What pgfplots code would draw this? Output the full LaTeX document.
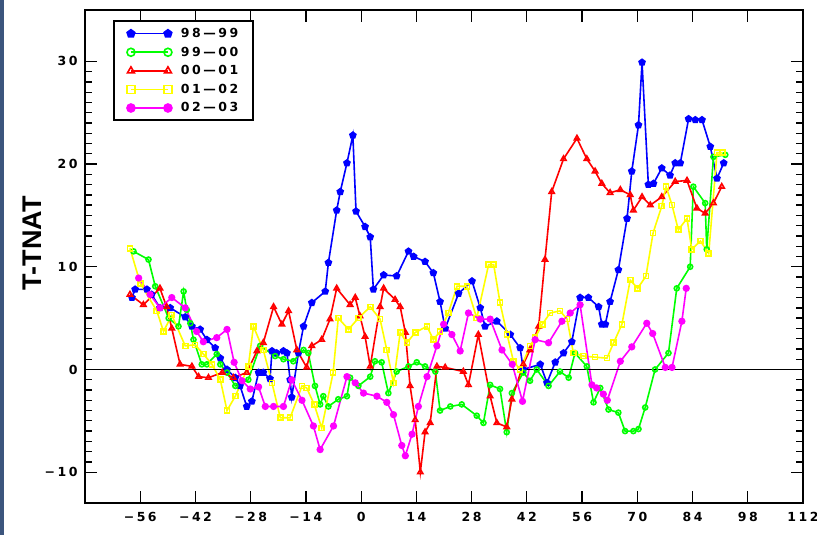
\documentclass[border=0pt]{standalone}
\usepackage{fontspec}
\setmainfont{Liberation Sans}
\newfontfamily\plotfont[LetterSpace=20]{DejaVu Sans}
\usepackage{pgfplots}
\pgfplotsset{compat=1.18}
\usetikzlibrary{plotmarks}

\definecolor{sBlue}{RGB}{0,0,255}
\definecolor{sGreen}{RGB}{0,255,0}
\definecolor{sRed}{RGB}{255,0,0}
\definecolor{sYellow}{RGB}{255,255,0}
\definecolor{sMagenta}{RGB}{255,0,255}
\definecolor{slideEdge}{RGB}{60,85,125}

\begin{document}
\begin{tikzpicture}
\useasboundingbox (-85pt,-32pt) rectangle (732pt,503pt);
\fill[slideEdge] (-85pt,-32pt) rectangle (-81pt,503pt);
\begin{axis}[
  scale only axis, width=718pt, height=493pt,
  xmin=-70, xmax=112, ymin=-13, ymax=35,
  xtick={-56,-42,...,112},
  xticklabels={−56,−42,−28,−14,0,14,28,42,56,70,84,98,112},
  ytick={-10,0,...,30},
  yticklabels={−10,0,10,20,30},
  minor y tick num=9,
  tick align=inside,
  major tick length=12pt, minor tick length=7pt,
  axis line style={line width=1.9pt},
  every tick/.style={black, line width=1.3pt},
  tick label style={font=\plotfont\bfseries\fontsize{12.5}{15}\selectfont},
  xticklabel style={yshift=-6pt},
  yticklabel style={xshift=-4pt},
  ylabel={T-TNAT},
  ylabel style={font=\bfseries\fontsize{27}{30}\selectfont,
    at={(axis description cs:-0.074,0.527)}, anchor=center},
  legend style={at={(axis description cs:0.039,0.979)}, anchor=north west,
    draw=black, line width=1.9pt, font=\plotfont\bfseries\fontsize{12.5}{15}\selectfont,
    inner xsep=13pt, inner ysep=5pt, row sep=3.8pt, cells={anchor=west},
    /tikz/every odd column/.append style={column sep=7pt}},
  legend image code/.code={\draw[mark size=4pt] plot coordinates {(0pt,0pt) (37pt,0pt)};},
]

% 98-99
\addplot[sBlue, line width=1.6pt, mark=pentagon*, mark size=3.1pt, mark options={solid, fill=sBlue}] coordinates {
(-58.1,7.0)(-57.3,7.8)(-54.3,7.8)(-53.1,7.3)(-51.0,6.0)(-48.4,6.0)(-44.6,5.1)(-42.9,4.2)(-40.8,3.9)(-39.1,2.9)(-37.0,2.1)(-35.7,1.1)(-34.0,0.0)(-31.9,-0.8)(-30.7,-1.6)(-29.0,-3.6)(-27.7,-3.1)(-26.0,-0.3)(-24.8,-0.3)(-23.1,-0.9)(-22.6,1.8)(-21.4,1.6)(-19.7,1.8)(-18.8,1.6)(-18.0,-1.0)(-17.6,-2.7)(-15.9,1.6)(-14.6,4.2)(-12.5,6.5)(-9.1,7.6)(-8.3,10.4)(-6.2,15.5)(-5.3,17.3)(-3.6,20.1)(-2.1,22.8)(-1.3,15.4)(1.0,13.9)(2.3,12.9)(3.1,7.8)(5.7,9.2)(9.0,9.1)(12.0,11.5)(13.3,11.0)(16.2,10.5)(18.3,9.4)(20.0,6.6)(21.3,4.0)(24.7,7.4)(28.1,8.6)(30.2,6.0)(31.4,4.2)(34.4,4.7)(37.8,3.4)(40.3,2.1)(41.1,0.0)(45.4,0.5)(47.1,-1.3)(49.2,0.7)(51.3,1.6)(53.4,2.7)(55.5,7.0)(57.6,7.0)(60.2,6.1)(61.0,4.4)(61.9,4.4)(63.1,6.6)(65.2,9.7)(67.4,14.7)(68.6,19.3)(70.3,23.8)(71.2,29.9)(72.8,18.0)(74.1,18.1)(76.2,19.6)(78.3,18.9)(79.6,20.1)(80.9,20.1)(83.0,24.4)(84.7,24.3)(86.4,24.3)(88.5,21.7)(90.2,18.6)(91.9,20.1)
};
\addlegendentry{98—99}

% 99-00
\addplot[sGreen, line width=1.6pt, mark=o, mark size=2.5pt, mark options={solid}] coordinates {
(-57.7,11.5)(-53.9,10.7)(-52.2,8.1)(-48.8,5.0)(-46.3,4.2)(-45.0,7.6)(-44.2,5.8)(-43.3,4.5)(-42.5,2.9)(-40.4,0.5)(-39.1,0.5)(-36.6,1.5)(-35.7,0.5)(-34.0,-0.3)(-31.9,-1.6)(-28.6,-1.0)(-25.6,2.3)(-21.8,1.3)(-19.7,1.0)(-17.2,0.8)(-14.6,1.9)(-13.4,1.6)(-11.7,-1.6)(-10.4,-3.4)(-9.6,-2.6)(-8.3,-3.6)(-5.8,-2.9)(-3.6,-2.6)(-2.8,-0.8)(-0.7,-1.6)(2.3,-0.7)(3.5,0.8)(5.2,0.7)(6.9,-2.3)(9.0,-0.2)(12.0,0.3)(14.1,0.7)(16.2,0.3)(18.8,-0.2)(20.0,-4.0)(22.6,-3.6)(25.5,-3.4)(29.3,-4.5)(31.0,-5.2)(32.7,-1.5)(35.2,-1.9)(36.9,-6.1)(38.2,-2.3)(41.1,-0.3)(42.8,-1.1)(44.5,0.0)(47.5,-1.6)(50.4,-0.2)(52.6,-0.8)(54.2,1.6)(57.2,0.3)(58.9,-3.2)(60.6,-1.8)(62.7,-3.9)(65.2,-4.2)(66.9,-6.0)(69.0,-6.0)(70.3,-5.8)(72.0,-3.7)(74.5,0.0)(77.9,1.6)(80.0,7.9)(83.4,10.0)(84.2,17.8)(87.2,16.2)(87.6,11.7)(89.3,20.7)(92.3,20.9)
};
\addlegendentry{99—00}

% 00-01
\addplot[sRed, line width=1.6pt, mark=triangle, mark size=3pt, mark options={solid}] coordinates {
(-58.6,7.3)(-55.2,6.3)(-51.0,7.9)(-49.3,6.1)(-48.0,4.0)(-45.9,0.5)(-42.9,0.3)(-41.2,-0.7)(-38.7,-0.8)(-35.2,-0.3)(-32.4,-0.8)(-29.0,-0.3)(-26.4,1.8)(-24.8,2.6)(-22.2,6.1)(-20.1,4.4)(-18.4,5.7)(-16.3,1.9)(-13.8,0.2)(-12.5,2.3)(-10.0,2.9)(-7.9,4.9)(-6.2,7.9)(-2.8,6.3)(-1.5,7.0)(-0.3,5.2)(1.0,3.2)(2.3,0.3)(4.8,6.1)(5.7,7.9)(8.6,6.8)(9.9,6.1)(11.2,3.6)(12.4,-1.6)(13.7,-4.9)(15.0,-10.0)(16.2,-6.1)(17.5,-5.2)(19.2,0.3)(21.3,0.2)(25.9,-0.2)(27.2,-1.5)(29.7,3.4)(32.7,-2.6)(34.4,-5.2)(36.9,-5.6)(38.2,-2.9)(41.1,0.5)(42.8,1.9)(45.0,4.2)(46.6,10.7)(48.3,17.3)(51.3,20.5)(54.7,22.5)(57.2,20.5)(59.3,19.3)(61.0,18.1)(63.1,17.2)(65.7,17.5)(68.2,17.0)(69.0,15.5)(71.2,16.8)(73.3,16.0)(76.2,16.8)(79.6,18.3)(82.6,18.4)(85.1,15.7)(87.2,15.2)(89.3,16.2)(91.4,17.8)
};
\addlegendentry{00—01}

% 01-02
\addplot[sYellow, line width=1.6pt, mark=square, mark size=2.5pt, mark options={solid}] coordinates {
(-58.6,11.8)(-56.0,8.4)(-51.8,5.7)(-50.1,3.7)(-48.0,5.3)(-44.6,2.3)(-42.1,2.4)(-40.0,1.5)(-37.8,0.5)(-35.7,-1.0)(-34.0,-4.0)(-31.9,-2.6)(-28.6,0.3)(-27.3,4.2)(-24.8,1.9)(-22.6,-1.3)(-20.5,-4.7)(-18.0,-4.7)(-15.0,-1.6)(-13.8,-1.8)(-11.9,-3.4)(-10.0,-5.7)(-7.1,-0.3)(-5.8,5.0)(-3.2,3.9)(-0.7,5.0)(2.3,6.1)(4.8,4.9)(6.5,1.9)(8.2,-1.3)(9.9,3.6)(11.6,2.6)(13.7,3.6)(16.7,4.2)(18.3,2.9)(20.0,3.7)(22.1,5.5)(24.3,8.1)(26.8,8.1)(29.3,5.0)(32.3,10.2)(33.6,10.2)(35.2,6.5)(37.0,3.4)(38.6,0.8)(40.3,0.0)(42.8,2.3)(44.1,3.1)(45.9,4.4)(47.9,5.5)(50.4,5.7)(52.2,4.9)(53.8,1.6)(56.4,1.3)(59.3,1.2)(62.3,1.1)(64.0,2.6)(66.1,4.4)(68.2,8.7)(70.1,7.9)(72.2,9.1)(74.0,13.3)(76.2,15.9)(77.3,17.8)(78.8,16.0)(80.4,13.6)(82.6,14.7)(83.8,11.7)(86.0,12.5)(88.1,11.3)(90.2,21.1)(91.6,21.1)
};
\addlegendentry{01—02}

% 02-03
\addplot[sMagenta, line width=1.6pt, mark=*, mark size=2.8pt, mark options={solid, fill=sMagenta}] coordinates {
(-56.4,8.9)(-53.5,7.3)(-51.0,6.0)(-48.0,7.0)(-44.6,6.0)(-41.7,3.7)(-40.0,2.7)(-36.6,3.1)(-34.0,3.9)(-32.2,0.7)(-30.2,-1.1)(-28.1,-1.9)(-26.0,-1.7)(-24.3,-3.6)(-22.2,-3.6)(-19.7,-3.6)(-17.6,-1.0)(-15.0,-3.0)(-12.1,-5.5)(-10.4,-7.8)(-7.0,-5.5)(-3.6,-0.7)(-1.5,-1.3)(0.6,-2.3)(4.0,-2.6)(6.5,-3.2)(8.2,-4.4)(10.3,-7.4)(11.2,-8.4)(12.9,-6.3)(14.5,-3.6)(16.7,-0.7)(19.2,2.3)(20.9,4.4)(23.0,3.4)(25.1,1.8)(27.2,5.5)(30.2,4.9)(32.7,4.9)(35.7,1.9)(38.3,0.5)(40.9,-3.1)(44.1,2.9)(47.5,2.6)(50.9,4.7)(53.0,5.5)(55.5,6.3)(58.5,-1.5)(59.7,-1.8)(61.4,-2.4)(62.4,-3.0)(65.7,0.8)(68.6,2.2)(72.4,4.5)(73.9,3.5)(77.1,0.2)(78.8,0.2)(81.3,4.7)(82.4,7.9)
};
\addlegendentry{02—03}

% zero reference line
\addplot[black, line width=1.6pt, forget plot] coordinates {(-70,0) (112,0)};
\end{axis}
\end{tikzpicture}
\end{document}
